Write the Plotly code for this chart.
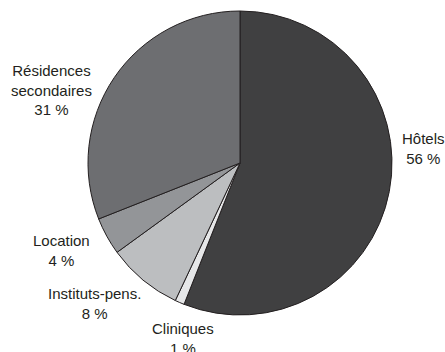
import plotly.graph_objects as go

labels = ["Hôtels", "Cliniques", "Instituts-pens.", "Location", "Résidences<br>secondaires"]
values = [56, 1, 8, 4, 31]
colors = ["#404041", "#e6e7e8", "#bcbec0", "#939598", "#6d6e71"]

# label block centres in pixels (x from left, y from top)
label_pos = [(423, 148), (183, 338), (94, 303), (61, 251), (51, 90)]

W, H = 445, 352
cx, cy, r = 240, 163, 152

fig = go.Figure(
    data=[
        go.Pie(
            labels=labels,
            values=values,
            sort=False,
            direction="clockwise",
            rotation=0,
            textinfo="none",
            hoverinfo="label+percent",
            marker={"colors": colors, "line": {"color": "#231f20", "width": 1}},
            domain={"x": [(cx - r) / W, (cx + r) / W], "y": [(H - cy - r) / H, (H - cy + r) / H]},
        )
    ]
)

for lab, val, (px, py) in zip(labels, values, label_pos):
    fig.add_annotation(
        x=px / W, y=1 - py / H, xref="paper", yref="paper",
        text=f"{lab}<br>{val} %", showarrow=False,
        xanchor="center", yanchor="middle", align="center",
        font={"family": "Liberation Sans, Arial", "size": 15, "color": "#231f20"},
    )

fig.update_layout(
    width=W, height=H,
    margin={"l": 0, "r": 0, "t": 0, "b": 0},
    showlegend=False,
    paper_bgcolor="white",
)

fig.write_html(
    "out.html",
    config={"displayModeBar": False},
    post_script="document.body.style.margin='0';document.body.style.overflow='hidden';",
)
